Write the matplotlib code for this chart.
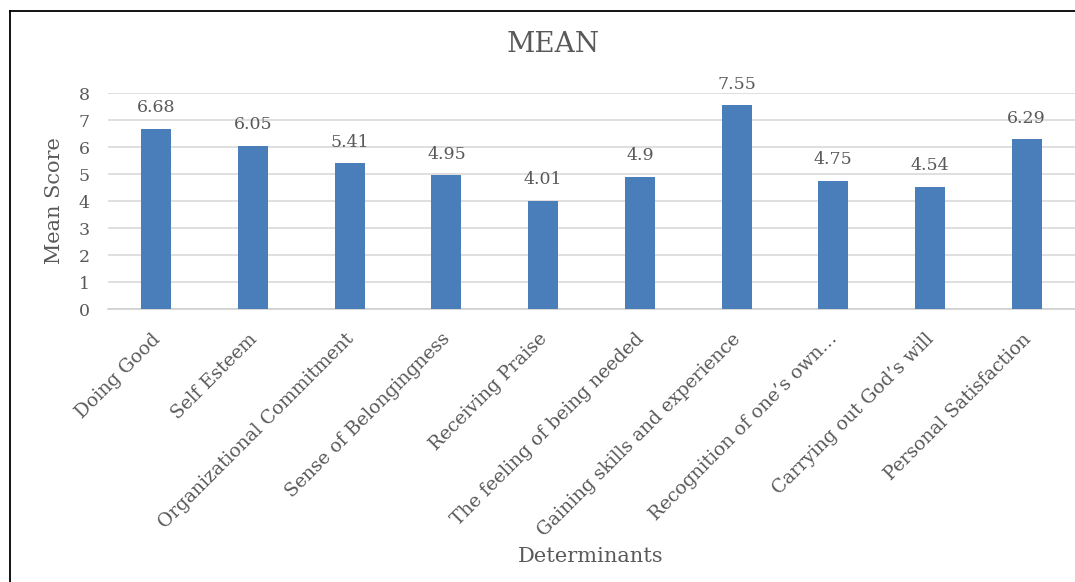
import matplotlib.pyplot as plt
from matplotlib.lines import Line2D
import matplotlib.transforms as mtransforms
import numpy as np

plt.rcParams['font.family'] = ['DejaVu Serif']

# data
determinants = ['Doing Good', 'Self Esteem', 'Organizational Commitment',
                'Sense of Belongingness', 'Receiving Praise',
                'The feeling of being needed', 'Gaining skills and experience',
                'Recognition of one\u2019s own\u2026', 'Carrying out God\u2019s will',
                'Personal Satisfaction']
mean_scores = [6.68, 6.05, 5.41, 4.95, 4.01, 4.9, 7.55, 4.75, 4.54, 6.29]
value_labels = ['6.68', '6.05', '5.41', '4.95', '4.01', '4.9', '7.55', '4.75', '4.54', '6.29']

txt = '#595959'
bar_col = '#4a7ebb'

fig = plt.figure(figsize=(10.75, 5.82), dpi=100)
ax = fig.add_axes([0.1005, 0.469, 0.8995, 0.371])

x = np.arange(len(determinants))
bars = ax.bar(x, mean_scores, width=0.31, color=bar_col, zorder=3)

for xi, v, lab in zip(x, mean_scores, value_labels):
    ax.annotate(lab, (xi, v), xytext=(0, 9), textcoords='offset points',
                ha='center', va='bottom', fontsize=12.5, color=txt)

ax.set_xlim(-0.5, len(determinants) - 0.5)
ax.set_ylim(0, 8)
ax.set_yticks(range(0, 9))
ax.yaxis.grid(True, color='#d9d9d9', linewidth=1.2, zorder=0)
ax.set_axisbelow(True)
for s in ['top', 'right', 'left']:
    ax.spines[s].set_visible(False)
ax.spines['bottom'].set_color('#d0d0d0')
ax.spines['bottom'].set_linewidth(1.2)
ax.tick_params(axis='y', length=0, pad=13, labelsize=12.5, labelcolor=txt)
ax.tick_params(axis='x', length=0, pad=15, labelsize=13.5, labelcolor=txt)

ax.set_xticks(x)
ax.set_xticklabels(determinants, rotation=45, ha='right', rotation_mode='anchor')
# nudge labels so their ends sit just right of the bar centres
shift = mtransforms.ScaledTranslation(-5 / 100, 0, fig.dpi_scale_trans)
for t in ax.get_xticklabels():
    t.set_transform(t.get_transform() + shift)

fig.text(0.5145, 0.923, 'MEAN', ha='center', va='center', fontsize=20, color=txt)
fig.text(55 / 1075, 1 - 201 / 582, 'Mean Score', rotation=90, ha='center', va='center',
         fontsize=15, color=txt)
fig.text(591 / 1075, 1 - 557 / 582, 'Determinants', ha='center', va='center',
         fontsize=15, color=txt)

# chart frame (cropped on right/bottom)
fig.add_artist(Line2D([10 / 1075, 10 / 1075], [0, 1 - 11 / 582], color='black', lw=1.3,
                      transform=fig.transFigure))
fig.add_artist(Line2D([10 / 1075, 1], [1 - 11 / 582, 1 - 11 / 582], color='black', lw=1.3,
                      transform=fig.transFigure))

fig.savefig('out.png', dpi=100)
